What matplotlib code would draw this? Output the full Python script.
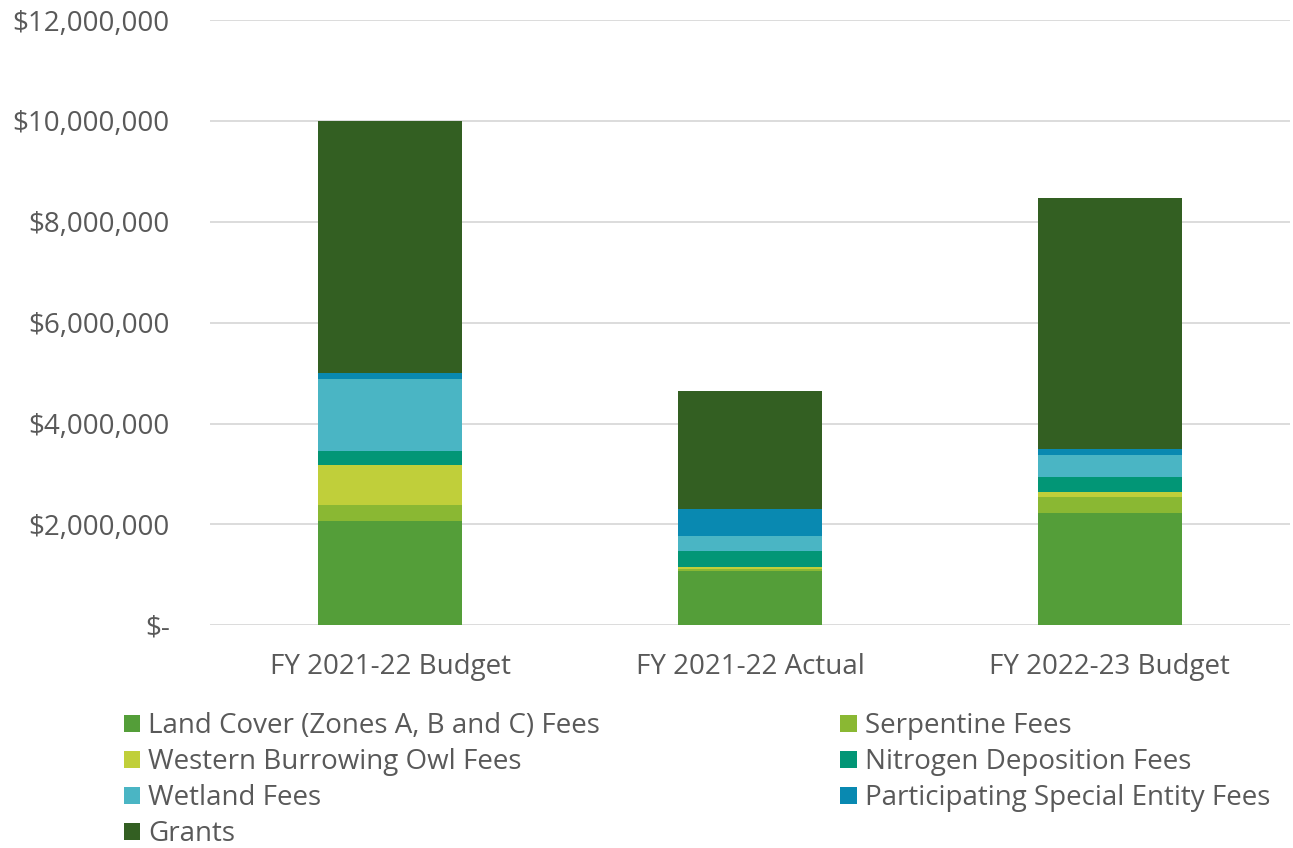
import matplotlib.pyplot as plt
from matplotlib.ticker import FuncFormatter

plt.rcParams['font.family'] = ['Open Sans', 'DejaVu Sans']

categories = ['FY 2021-22 Budget', 'FY 2021-22 Actual', 'FY 2022-23 Budget']
series = [
    'Land Cover (Zones A, B and C) Fees',
    'Serpentine Fees',
    'Western Burrowing Owl Fees',
    'Nitrogen Deposition Fees',
    'Wetland Fees',
    'Participating Special Entity Fees',
    'Grants',
]
land_cover = [2065000, 1080000, 2224000]
serpentine = [317000, 40000, 323000]
burrowing_owl = [795000, 40000, 100000]
nitrogen = [280000, 320000, 290000]
wetland = [1420000, 300000, 430000]
special_entity = [120000, 530000, 120000]
grants = [5000000, 2330000, 4990000]
colors = ['#549E39', '#8AB833', '#C0CF3A', '#029676', '#4AB5C4', '#0989B1', '#335F22']

values = [land_cover, serpentine, burrowing_owl, nitrogen, wetland, special_entity, grants]

fig = plt.figure(figsize=(12.93, 8.48), dpi=100)
ax = fig.add_axes([0.1625, 0.2626, 0.835, 0.7138])

x = range(len(categories))
bottom = [0, 0, 0]
handles = []
for name, vals, c in zip(series, values, colors):
    h = ax.bar(x, vals, 0.4, bottom=bottom, color=c, label=name, zorder=3)
    handles.append(h)
    bottom = [b + v for b, v in zip(bottom, vals)]

ax.set_xlim(-0.5, 2.5)
ax.set_ylim(0, 12000000)
ax.set_yticks(range(0, 12000001, 2000000))
ax.yaxis.set_major_formatter(FuncFormatter(lambda v, p: '$-' if v == 0 else f'${v:,.0f}'))
ax.set_xticks(list(x))
ax.set_xticklabels(categories)
ax.grid(axis='y', color='#D9D9D9', linewidth=1.3, zorder=0)
for s in ax.spines.values():
    s.set_visible(False)
ax.tick_params(length=0, labelsize=20, labelcolor='#595959')
ax.tick_params(axis='x', pad=20)
ax.tick_params(axis='y', pad=29)

order = [0, 2, 4, 6, 1, 3, 5]
leg = fig.legend([handles[i] for i in order], [series[i] for i in order],
                 ncol=2, loc='upper left', bbox_to_anchor=(0.0874, 0.1735),
                 frameon=False, fontsize=20, labelcolor='#595959',
                 handlelength=0.58, handleheight=0.58, handletextpad=0.29,
                 labelspacing=0.29, columnspacing=8.65, borderaxespad=0)

fig.savefig('out.png', dpi=100)
